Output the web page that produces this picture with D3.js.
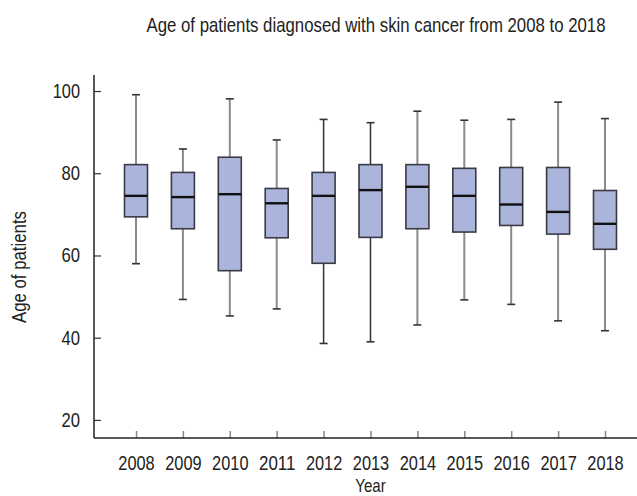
<!DOCTYPE html>
<html>
<head>
<meta charset="utf-8">
<script src="https://cdn.jsdelivr.net/npm/d3@7"></script>
<style>
  body { margin: 0; background: #fff; }
  text { font-family: "Liberation Sans", Arial, sans-serif; fill: #222; }
</style>
</head>
<body>
<div id="wrapper"></div>
<script>
// values
const years = ["2008","2009","2010","2011","2012","2013","2014","2015","2016","2017","2018"]
const whiskerHigh = [99.1, 85.9, 98.1, 88.1, 93.1, 92.3, 95.1, 92.9, 93.1, 97.3, 93.3]
const q3Values    = [82.1, 80.2, 83.9, 76.3, 80.2, 82.1, 82.1, 81.2, 81.4, 81.4, 75.8]
const medians     = [74.5, 74.2, 74.9, 72.7, 74.5, 75.9, 76.7, 74.5, 72.4, 70.6, 67.7]
const q1Values    = [69.4, 66.5, 56.3, 64.3, 58.1, 64.4, 66.5, 65.7, 67.3, 65.2, 61.5]
const whiskerLow  = [58.0, 49.3, 45.3, 47.0, 38.6, 39.0, 43.1, 49.2, 48.1, 44.1, 41.7]
const yTicks = [20, 40, 60, 80, 100]
const darkWhiskers = ["2012", "2013"]

const dataset = years.map((y, i) => ({
    year: y,
    hi: whiskerHigh[i],
    q3: q3Values[i],
    med: medians[i],
    q1: q1Values[i],
    lo: whiskerLow[i],
}))

let dimensions = {
    width: 637,
    height: 496,
    margin: { top: 75, right: 0, bottom: 58, left: 94 },
}
dimensions.boundedWidth = dimensions.width - dimensions.margin.left - dimensions.margin.right
dimensions.boundedHeight = dimensions.height - dimensions.margin.top - dimensions.margin.bottom

// the reference font is condensed, so squeeze the glyphs a bit
const digitWidth = 9.1

const wrapper = d3.select("#wrapper").append("svg")
    .attr("width", dimensions.width)
    .attr("height", dimensions.height)

const bounds = wrapper.append("g")
    .attr("transform", `translate(${dimensions.margin.left},${dimensions.margin.top})`)

//scales
const yScale = d3.scaleLinear()
    .domain([15.6, 103.9])
    .range([dimensions.boundedHeight, 0])

const xScale = d3.scalePoint()
    .domain(years)
    .range([42, 511])

const boxWidth = 23

//axes
const yAxis = bounds.append("g")
    .call(d3.axisLeft(yScale).tickValues(yTicks).tickSizeInner(-7).tickSizeOuter(0).tickPadding(14))
yAxis.select(".domain").remove()
yAxis.selectAll(".tick line").attr("stroke", "#333").attr("stroke-width", 1.2)
yAxis.selectAll(".tick text")
    .style("font-size", "20px")
    .attr("fill", "#222")
    .attr("textLength", d => String(d).length * 8.75 + 1)
    .attr("lengthAdjust", "spacingAndGlyphs")

const xAxis = bounds.append("g")
    .attr("transform", `translate(0,${dimensions.boundedHeight})`)
    .call(d3.axisBottom(xScale).tickSizeInner(-7).tickSizeOuter(0).tickPadding(18))
xAxis.select(".domain").remove()
xAxis.selectAll(".tick line").attr("stroke", "#888").attr("stroke-width", 1.5)
xAxis.selectAll(".tick text")
    .style("font-size", "20px")
    .attr("fill", "#222")
    .attr("textLength", d => d.length * digitWidth)
    .attr("lengthAdjust", "spacingAndGlyphs")

// axis lines
bounds.append("line")
    .attr("x1", 0).attr("x2", 0)
    .attr("y1", 0).attr("y2", dimensions.boundedHeight)
    .attr("stroke", "#222").attr("stroke-width", 1.5)
bounds.append("line")
    .attr("x1", 0).attr("x2", dimensions.boundedWidth)
    .attr("y1", dimensions.boundedHeight).attr("y2", dimensions.boundedHeight)
    .attr("stroke", "#222").attr("stroke-width", 1.5)

//boxes
const groups = bounds.selectAll(".box")
    .data(dataset)
    .join("g")
    .attr("class", "box")

groups.append("line")
    .attr("x1", d => xScale(d.year)).attr("x2", d => xScale(d.year))
    .attr("y1", d => yScale(d.hi)).attr("y2", d => yScale(d.lo))
    .attr("stroke", d => darkWhiskers.includes(d.year) ? "#333" : "#8a8a8a")
    .attr("stroke-width", d => darkWhiskers.includes(d.year) ? 1.5 : 2)

groups.selectAll(".cap")
    .data(d => [{ x: xScale(d.year), v: d.hi }, { x: xScale(d.year), v: d.lo }])
    .join("line")
    .attr("class", "cap")
    .attr("x1", d => d.x - 4).attr("x2", d => d.x + 4)
    .attr("y1", d => yScale(d.v)).attr("y2", d => yScale(d.v))
    .attr("stroke", "#333").attr("stroke-width", 1.6)

groups.append("rect")
    .attr("x", d => xScale(d.year) - boxWidth / 2)
    .attr("width", boxWidth)
    .attr("y", d => yScale(d.q3))
    .attr("height", d => yScale(d.q1) - yScale(d.q3))
    .attr("fill", "#abb5dc")
    .attr("stroke", "#3a3a44")
    .attr("stroke-width", 1.6)

groups.append("line")
    .attr("x1", d => xScale(d.year) - boxWidth / 2).attr("x2", d => xScale(d.year) + boxWidth / 2)
    .attr("y1", d => yScale(d.med)).attr("y2", d => yScale(d.med))
    .attr("stroke", "#111").attr("stroke-width", 2.4)

//labels
// title squeezed with a transform so its box is measured right
wrapper.append("text")
    .attr("transform", "translate(376,32) scale(0.84,1)")
    .attr("text-anchor", "middle")
    .style("font-size", "20px")
    .text("Age of patients diagnosed with skin cancer from 2008 to 2018")

wrapper.append("text")
    .attr("transform", `translate(${dimensions.margin.left + (xScale("2008") + xScale("2018")) / 2},492) scale(0.84,1)`)
    .attr("text-anchor", "middle")
    .style("font-size", "18px")
    .text("Year")

wrapper.append("text")
    .attr("transform", `translate(26,${dimensions.margin.top + 192}) rotate(-90)`)
    .attr("text-anchor", "middle")
    .attr("textLength", 112)
    .attr("lengthAdjust", "spacingAndGlyphs")
    .style("font-size", "20px")
    .text("Age of patients")
</script>
</body>
</html>
